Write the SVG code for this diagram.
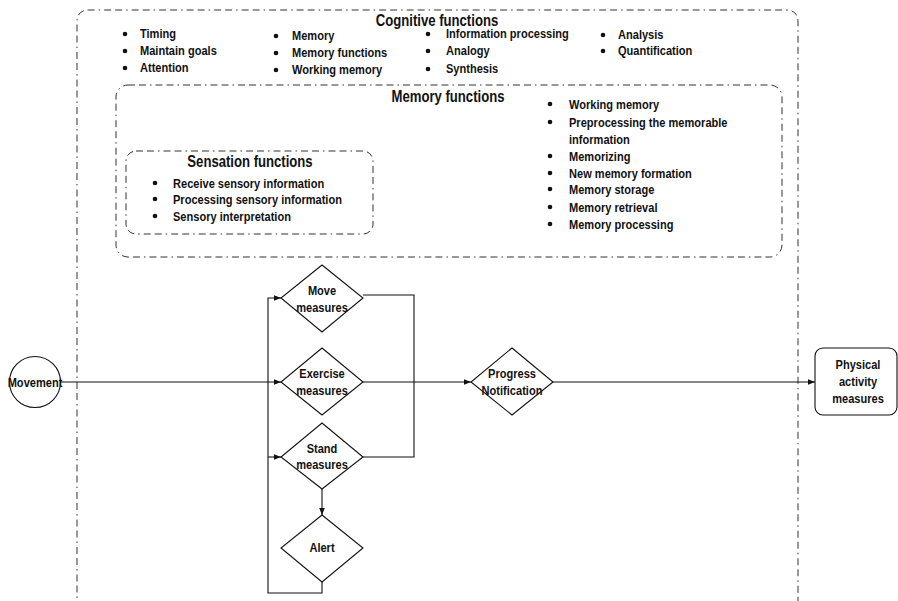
<svg xmlns="http://www.w3.org/2000/svg" width="898" height="601" viewBox="0 0 898 601">
<defs>
<marker id="arr" viewBox="0 0 10 10" refX="10" refY="5" markerWidth="7" markerHeight="7" orient="auto" markerUnits="userSpaceOnUse"><path d="M0,1 L10,5 L0,9 z" fill="#111"/></marker>
</defs>
<style>
text{font-family:"Liberation Sans",Arial,sans-serif;font-weight:bold;fill:#111}
.t{font-size:13.5px}
.h{font-size:16px;text-anchor:middle}
.c{font-size:13.5px;text-anchor:middle}
.grp{fill:none;stroke:#333;stroke-width:1;stroke-dasharray:7,4,7,4,1.5,4}
.shape{fill:#fff;stroke:#111;stroke-width:1.1}
.ln{fill:none;stroke:#111;stroke-width:1.1}
.b{fill:#111}
</style>
<rect width="898" height="601" fill="#fff"/>

<g id="cognitive">
<path class="grp" d="M77,620 V22 Q77,10 89,10 H786 Q798,10 798,22 V620"/>
<text class="h" transform="translate(437,26) scale(.82,1)">Cognitive functions</text>
<circle class="b" cx="125" cy="34" r="2.3"/><text class="t" transform="translate(140,38) scale(.82,1)">Timing</text>
<circle class="b" cx="125" cy="51" r="2.3"/><text class="t" transform="translate(140,55) scale(.82,1)">Maintain goals</text>
<circle class="b" cx="125" cy="68" r="2.3"/><text class="t" transform="translate(140,72) scale(.82,1)">Attention</text>
<circle class="b" cx="276" cy="36" r="2.3"/><text class="t" transform="translate(292,40) scale(.82,1)">Memory</text>
<circle class="b" cx="276" cy="53" r="2.3"/><text class="t" transform="translate(292,57) scale(.82,1)">Memory functions</text>
<circle class="b" cx="276" cy="70" r="2.3"/><text class="t" transform="translate(292,74) scale(.82,1)">Working memory</text>
<circle class="b" cx="428" cy="34" r="2.3"/><text class="t" transform="translate(446,38) scale(.82,1)">Information processing</text>
<circle class="b" cx="428" cy="51" r="2.3"/><text class="t" transform="translate(446,55) scale(.82,1)">Analogy</text>
<circle class="b" cx="428" cy="69" r="2.3"/><text class="t" transform="translate(446,73) scale(.82,1)">Synthesis</text>
<circle class="b" cx="603" cy="35" r="2.3"/><text class="t" transform="translate(618,39) scale(.82,1)">Analysis</text>
<circle class="b" cx="603" cy="51" r="2.3"/><text class="t" transform="translate(618,55) scale(.82,1)">Quantification</text>
</g>

<g id="memory">
<rect class="grp" x="116" y="85" width="666" height="172" rx="12"/>
<text class="h" transform="translate(448,102) scale(.82,1)">Memory functions</text>
<circle class="b" cx="550" cy="104" r="2.3"/><text class="t" transform="translate(569,109) scale(.82,1)">Working memory</text>
<circle class="b" cx="550" cy="122" r="2.3"/><text class="t" transform="translate(569,127) scale(.82,1)">Preprocessing the memorable</text>
<text class="t" transform="translate(569,144) scale(.82,1)">information</text>
<circle class="b" cx="550" cy="156" r="2.3"/><text class="t" transform="translate(569,161) scale(.82,1)">Memorizing</text>
<circle class="b" cx="550" cy="173" r="2.3"/><text class="t" transform="translate(569,178) scale(.82,1)">New memory formation</text>
<circle class="b" cx="550" cy="189" r="2.3"/><text class="t" transform="translate(569,194) scale(.82,1)">Memory storage</text>
<circle class="b" cx="550" cy="207" r="2.3"/><text class="t" transform="translate(569,212) scale(.82,1)">Memory retrieval</text>
<circle class="b" cx="550" cy="224" r="2.3"/><text class="t" transform="translate(569,229) scale(.82,1)">Memory processing</text>
</g>

<g id="sensation">
<rect class="grp" x="126" y="151" width="247" height="83" rx="10"/>
<text class="h" transform="translate(250,167) scale(.82,1)">Sensation functions</text>
<circle class="b" cx="155" cy="183" r="2.3"/><text class="t" transform="translate(173,188) scale(.82,1)">Receive sensory information</text>
<circle class="b" cx="155" cy="199" r="2.3"/><text class="t" transform="translate(173,204) scale(.82,1)">Processing sensory information</text>
<circle class="b" cx="155" cy="216" r="2.3"/><text class="t" transform="translate(173,221) scale(.82,1)">Sensory interpretation</text>
</g>

<g id="connectors">
<path class="ln" d="M61,382 H281" marker-end="url(#arr)"/>
<path class="ln" d="M322,582 V593 H268 V298 H281" marker-end="url(#arr)"/>
<path class="ln" d="M268,457 H281" marker-end="url(#arr)"/>
<path class="ln" d="M322,489 V515" marker-end="url(#arr)"/>
<path class="ln" d="M363,295 H414 V457 H363"/>
<path class="ln" d="M363,382 H471" marker-end="url(#arr)"/>
<path class="ln" d="M553,382 H815" marker-end="url(#arr)"/>
</g>

<g id="movement">
<circle class="shape" cx="35" cy="382" r="25.5"/>
<text class="c" transform="translate(35,387) scale(.82,1)">Movement</text>
</g>

<g id="move">
<path class="shape" d="M322,265 L363,298 L322,332 L281,298 Z"/>
<text class="c" transform="translate(322,295) scale(.82,1)">Move</text>
<text class="c" transform="translate(322,312) scale(.82,1)">measures</text>
</g>

<g id="exercise">
<path class="shape" d="M322,348 L363,382 L322,415 L281,382 Z"/>
<text class="c" transform="translate(322,378) scale(.82,1)">Exercise</text>
<text class="c" transform="translate(322,395) scale(.82,1)">measures</text>
</g>

<g id="stand">
<path class="shape" d="M322,423 L363,457 L322,489 L281,457 Z"/>
<text class="c" transform="translate(322,453) scale(.82,1)">Stand</text>
<text class="c" transform="translate(322,469) scale(.82,1)">measures</text>
</g>

<g id="alert">
<path class="shape" d="M322,515 L363,548 L322,582 L281,548 Z"/>
<text class="c" transform="translate(322,552) scale(.82,1)">Alert</text>
</g>

<g id="progress">
<path class="shape" d="M512,348 L553,382 L512,415 L471,382 Z"/>
<text class="c" transform="translate(512,378) scale(.82,1)">Progress</text>
<text class="c" transform="translate(512,395) scale(.82,1)">Notification</text>
</g>

<g id="physical">
<rect class="shape" x="815" y="348" width="82" height="67" rx="8"/>
<text class="c" transform="translate(858,369) scale(.82,1)">Physical</text>
<text class="c" transform="translate(858,386) scale(.82,1)">activity</text>
<text class="c" transform="translate(858,403) scale(.82,1)">measures</text>
</g>
</svg>
